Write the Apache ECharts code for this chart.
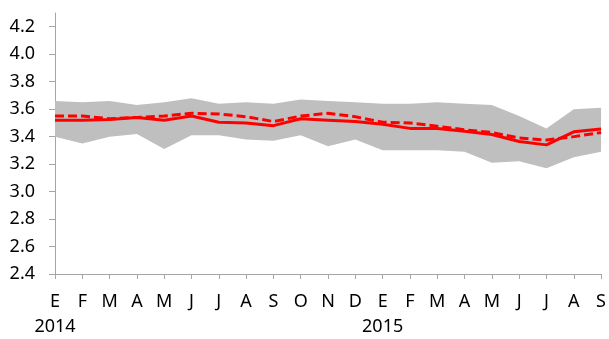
<!DOCTYPE html>
<html>
<head>
<meta charset="utf-8">
<script src="https://cdn.jsdelivr.net/npm/echarts@6/dist/echarts.min.js"></script>
<style>
  html, body { margin: 0; padding: 0; background: #fff; }
  #chart { width: 609px; height: 339px; }
</style>
</head>
<body>
<div id="chart"></div>
<script>
const months = ["E", "F", "M", "A", "M", "J", "J", "A", "S", "O", "N", "D",
  "E", "F", "M", "A", "M", "J", "J", "A", "S"];
const years = { 0: "2014", 12: "2015" };
const yTicks = [2.4, 2.6, 2.8, 3.0, 3.2, 3.4, 3.6, 3.8, 4.0, 4.2];

// rango (banda gris)
const upper = [3.66, 3.65, 3.66, 3.63, 3.65, 3.68, 3.64, 3.65, 3.64, 3.67, 3.66, 3.65,
  3.64, 3.64, 3.65, 3.64, 3.63, 3.55, 3.46, 3.60, 3.61];
const lower = [3.40, 3.35, 3.40, 3.42, 3.31, 3.41, 3.41, 3.38, 3.37, 3.41, 3.33, 3.38,
  3.30, 3.30, 3.30, 3.29, 3.21, 3.22, 3.17, 3.25, 3.29];
// lineas rojas
const solid = [3.52, 3.52, 3.525, 3.54, 3.52, 3.55, 3.505, 3.50, 3.48, 3.53, 3.52, 3.51,
  3.49, 3.46, 3.46, 3.44, 3.415, 3.365, 3.34, 3.435, 3.455];
const dashed = [3.55, 3.55, 3.53, 3.54, 3.55, 3.57, 3.565, 3.545, 3.51, 3.55, 3.57, 3.545,
  3.505, 3.50, 3.475, 3.45, 3.43, 3.39, 3.375, 3.40, 3.43];

const band = upper.map((u, i) => +(u - lower[i]).toFixed(3));

const myChart = echarts.init(document.getElementById("chart"));
const font = { fontFamily: "Noto Sans", fontSize: 18, color: "#000" };
myChart.setOption({
  animation: false,
  grid: { left: 55, right: 4, top: 13, bottom: 61, containLabel: false },
  xAxis: {
    type: "category",
    data: months,
    boundaryGap: false,
    axisLine: { lineStyle: { color: "#a6a6a6", width: 1 } },
    axisTick: { show: true, length: 5, alignWithLabel: true, lineStyle: { color: "#a6a6a6" } },
    axisLabel: {
      ...font,
      interval: 0,
      margin: 15,
      lineHeight: 25,
      formatter: (v, i) => (years[i] ? v + "\n" + years[i] : v),
    },
    splitLine: { show: false },
  },
  yAxis: {
    type: "value",
    min: 2.4,
    max: 4.3,
    interval: 0.2,
    axisLine: { show: true, lineStyle: { color: "#a6a6a6", width: 1 } },
    axisTick: { show: true, length: 6, customValues: yTicks, lineStyle: { color: "#a6a6a6" } },
    axisLabel: {
      ...font,
      margin: 20,
      customValues: yTicks,
      formatter: (v) => v.toFixed(1),
    },
    splitLine: { show: false },
  },
  series: [
    {
      type: "line",
      data: lower,
      stack: "band",
      symbol: "none",
      lineStyle: { opacity: 0 },
      silent: true,
    },
    {
      type: "line",
      data: band,
      stack: "band",
      symbol: "none",
      lineStyle: { opacity: 0 },
      areaStyle: { color: "#bfbfbf", opacity: 1 },
      silent: true,
    },
    {
      type: "line",
      data: solid,
      symbol: "none",
      lineStyle: { color: "#ff0000", width: 3 },
    },
    {
      type: "line",
      data: dashed,
      symbol: "none",
      lineStyle: { color: "#ff0000", width: 3, type: [9, 4] },
    },
  ],
});
</script>
</body>
</html>
